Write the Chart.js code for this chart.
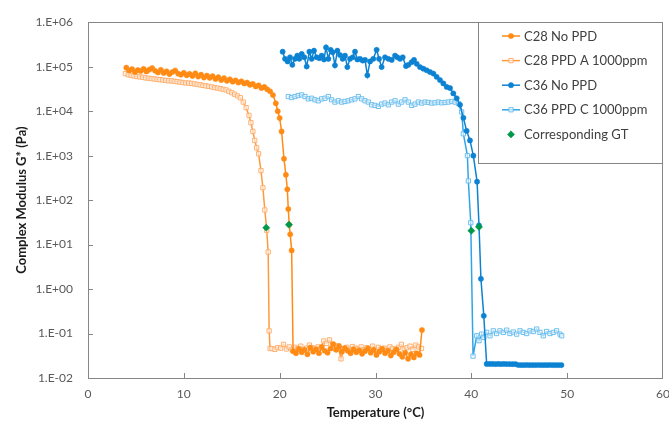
<!DOCTYPE html>
<html>
<head>
<meta charset="utf-8">
<script src="https://cdn.jsdelivr.net/npm/chart.js@4.4.1/dist/chart.umd.min.js"></script>
<style>
  html, body { margin: 0; padding: 0; background: #fff; overflow: hidden; }
</style>
</head>
<body>
<canvas id="chart" width="680" height="423"></canvas>
<script>
// series labels, in legend order
var seriesNames = ['C28 No PPD', 'C28 PPD A 1000ppm', 'C36 No PPD', 'C36 PPD C 1000ppm', 'Corresponding GT'];

// y axis: powers of ten and the way the sheet printed them
var yTickValues = [1e-2, 1e-1, 1e0, 1e1, 1e2, 1e3, 1e4, 1e5, 1e6];
var yTickLabels = ['1.E-02', '1.E-01', '1.E+00', '1.E+01', '1.E+02', '1.E+03', '1.E+04', '1.E+05', '1.E+06'];

// [temperature (°C), G* (Pa)]
var c28NoPPD = [
  [4.0,9.5e4],[4.3,8.2e4],[4.6,8.8e4],[4.9,7.6e4],[5.2,8.4e4],[5.5,8.0e4],[5.8,8.9e4],[6.1,7.8e4],
  [6.4,8.6e4],[6.7,9.3e4],[7.0,8.1e4],[7.3,7.4e4],[7.6,8.5e4],[7.9,7.2e4],[8.2,7.9e4],[8.5,6.8e4],
  [8.8,7.6e4],[9.1,8.2e4],[9.4,7.0e4],[9.7,6.6e4],[10.0,7.3e4],[10.3,6.4e4],[10.6,6.9e4],[10.9,6.2e4],
  [11.2,7.1e4],[11.5,6.0e4],[11.8,6.6e4],[12.1,5.7e4],[12.4,6.3e4],[12.7,5.6e4],[13.0,6.1e4],[13.3,5.3e4],
  [13.6,5.8e4],[13.9,5.0e4],[14.2,5.5e4],[14.5,4.8e4],[14.8,5.2e4],[15.1,4.6e4],[15.4,4.9e4],[15.7,4.4e4],
  [16.0,4.7e4],[16.3,4.2e4],[16.6,4.4e4],[16.9,3.9e4],[17.2,4.1e4],[17.5,3.6e4],[17.8,3.8e4],[18.1,3.3e4],
  [18.4,3.5e4],[18.7,3.1e4],[19.0,2.8e4],[19.3,2.3e4],[19.6,1.5e4],[19.8,1.0e4],[20.0,7.0e3],[20.2,3.5e3],
  [20.45,8.5e2],[20.65,3.7e2],[20.8,1.75e2],[20.9,63],[21.0,28],[21.1,17],[21.25,7.4],[21.4,0.040],
  [21.7,0.036],[22.0,0.045],[22.3,0.038],[22.6,0.043],[22.9,0.034],[23.2,0.048],[23.5,0.039],[23.8,0.044],
  [24.1,0.036],[24.4,0.050],[24.7,0.041],[25.0,0.037],[25.3,0.046],[25.6,0.058],[25.9,0.043],[26.2,0.052],
  [26.5,0.039],[26.8,0.047],[27.1,0.041],[27.4,0.036],[27.7,0.044],[28.0,0.038],[28.3,0.042],[28.6,0.035],
  [28.9,0.040],[29.2,0.046],[29.5,0.037],[29.8,0.043],[30.1,0.033],[30.4,0.039],[30.7,0.045],[31.0,0.036],
  [31.3,0.041],[31.6,0.032],[31.9,0.038],[32.2,0.044],[32.5,0.035],[32.8,0.030],[33.1,0.037],[33.4,0.027],
  [33.7,0.034],[34.0,0.029],[34.3,0.036],[34.6,0.033],[34.85,0.120]
];

var c28PPDA = [
  [3.9,7.0e4],[4.2,6.6e4],[4.5,6.4e4],[4.8,6.2e4],[5.1,6.0e4],[5.4,5.9e4],[5.7,5.8e4],[6.0,5.6e4],
  [6.3,5.5e4],[6.6,5.4e4],[6.9,5.3e4],[7.2,5.2e4],[7.5,5.1e4],[7.8,5.0e4],[8.1,4.9e4],[8.4,4.8e4],
  [8.7,4.8e4],[9.0,4.7e4],[9.3,4.6e4],[9.6,4.5e4],[9.9,4.4e4],[10.2,4.3e4],[10.5,4.3e4],[10.8,4.2e4],
  [11.1,4.1e4],[11.4,4.0e4],[11.7,3.9e4],[12.0,3.8e4],[12.3,3.7e4],[12.6,3.6e4],[12.9,3.5e4],[13.2,3.4e4],
  [13.5,3.3e4],[13.8,3.2e4],[14.1,3.1e4],[14.4,3.0e4],[14.7,2.8e4],[15.0,2.6e4],[15.3,2.4e4],[15.6,2.2e4],
  [15.9,2.0e4],[16.2,1.6e4],[16.5,1.2e4],[16.8,8.0e3],[17.0,5.5e3],[17.2,3.5e3],[17.4,2.2e3],[17.6,1.5e3],
  [17.8,1.1e3],[18.05,4.6e2],[18.25,1.9e2],[18.45,60],[18.65,21],[18.8,6.8],[18.9,0.115],[19.0,0.046],
  [19.2,0.046],[19.5,0.044],[19.8,0.048],[20.1,0.047],[20.4,0.057],[20.7,0.045],[21.0,0.050],[21.3,0.043],
  [21.6,0.049],[21.9,0.046],[22.2,0.052],[22.5,0.044],[22.8,0.047],[23.1,0.055],[23.4,0.048],[23.7,0.045],
  [24.0,0.050],[24.3,0.047],[24.6,0.068],[24.9,0.060],[25.2,0.072],[25.5,0.050],[25.8,0.045],[26.1,0.053],
  [26.4,0.027],[26.7,0.046],[27.0,0.049],[27.3,0.044],[27.6,0.051],[27.9,0.047],[28.2,0.045],[28.5,0.050],
  [28.8,0.043],[29.1,0.048],[29.4,0.046],[29.7,0.052],[30.0,0.044],[30.3,0.049],[30.6,0.045],[30.9,0.047],
  [31.2,0.042],[31.5,0.050],[31.8,0.046],[32.1,0.044],[32.4,0.049],[32.7,0.057],[33.0,0.045],[33.3,0.048],
  [33.6,0.052],[33.9,0.044],[34.2,0.055],[34.5,0.050],[34.8,0.046]
];

var c36NoPPD = [
  [20.31,2.17e5],[20.56,1.50e5],[20.83,1.31e5],[21.08,1.63e5],[21.32,1.10e5],[21.60,1.50e5],[21.84,1.77e5],
  [22.05,1.50e5],[22.30,1.93e5],[22.57,1.63e5],[22.82,1.01e5],[23.10,2.17e5],[23.34,1.50e5],[23.58,2.29e5],
  [23.86,1.63e5],[24.14,1.55e5],[24.38,1.77e5],[24.63,1.45e5],[24.84,2.71e5],[25.08,1.50e5],[25.32,2.40e5],
  [25.53,2.10e5],[25.77,1.07e5],[26.02,2.29e5],[26.30,1.83e5],[26.57,1.50e5],[26.82,1.77e5],[27.06,9.8e4],
  [27.34,1.50e5],[27.62,1.63e5],[27.86,2.17e5],[28.11,1.45e5],[28.38,1.50e5],[28.66,1.37e5],[28.91,1.42e5],
  [29.15,6.4e4],[29.43,1.31e5],[29.77,1.50e5],[30.12,2.40e5],[30.37,1.50e5],[30.64,9.8e4],[30.99,1.63e5],
  [31.34,1.50e5],[31.69,1.42e5],[32.04,1.77e5],[32.28,1.63e5],[32.56,1.50e5],[32.84,1.63e5],[33.18,1.03e5],
  [33.43,1.10e5],[33.77,1.26e5],[34.02,1.42e5],[34.30,1.16e5],[34.64,9.8e4],[34.99,9.0e4],[35.34,8.3e4],
  [35.69,7.6e4],[36.04,7.0e4],[36.38,5.9e4],[36.73,5.0e4],[37.08,4.2e4],[37.43,3.5e4],[37.78,3.3e4],
  [38.12,2.5e4],[38.47,1.95e4],[38.82,1.39e4],[39.17,7.1e3],[39.51,3.6e3],[39.86,2.2e3],[40.21,1.0e3],
  [40.6,2.6e2],[40.8,27],[41.0,1.7],[41.3,0.25],[41.6,0.0207],[41.9,0.0207],[42.2,0.0207],[42.5,0.0206],
  [42.8,0.0207],[43.1,0.0206],[43.4,0.0207],[43.7,0.0206],[44.0,0.0206],[44.3,0.0205],[44.6,0.0206],
  [44.9,0.0196],[45.2,0.0195],[45.5,0.0195],[45.8,0.0196],[46.1,0.0195],[46.4,0.0195],[46.7,0.0195],
  [47.0,0.0196],[47.3,0.0195],[47.6,0.0195],[47.9,0.0195],[48.2,0.0196],[48.5,0.0195],[48.8,0.0195],
  [49.1,0.0195],[49.4,0.0195]
];

var c36PPDC = [
  [20.90,2.13e4],[21.25,2.02e4],[21.60,2.13e4],[21.94,2.24e4],[22.29,2.32e4],[22.64,2.13e4],[22.99,1.89e4],
  [23.34,1.95e4],[23.68,1.80e4],[24.03,1.71e4],[24.38,1.89e4],[24.73,1.95e4],[25.08,2.13e4],[25.42,1.80e4],
  [25.77,1.60e4],[26.12,1.71e4],[26.47,1.60e4],[26.82,1.65e4],[27.16,1.71e4],[27.51,1.80e4],[27.86,1.89e4],
  [28.21,2.13e4],[28.56,1.89e4],[28.90,1.71e4],[29.25,1.60e4],[29.60,1.39e4],[29.95,1.35e4],[30.30,1.28e4],
  [30.64,1.44e4],[30.99,1.52e4],[31.34,1.39e4],[31.69,1.60e4],[32.04,1.71e4],[32.38,1.44e4],[32.73,1.60e4],
  [33.08,1.80e4],[33.43,1.60e4],[33.78,1.35e4],[34.12,1.44e4],[34.47,1.60e4],[34.82,1.52e4],[35.17,1.60e4],
  [35.52,1.57e4],[35.86,1.52e4],[36.21,1.54e4],[36.56,1.60e4],[36.91,1.54e4],[37.26,1.57e4],[37.60,1.60e4],
  [37.95,1.65e4],[38.30,1.60e4],[38.65,1.49e4],[38.99,9.6e3],[39.17,3.1e3],[39.59,1.0e3],[39.69,2.7e2],
  [39.94,31],[40.18,0.031],[40.56,0.089],[40.80,0.069],[41.08,0.097],[41.32,0.082],[41.60,0.106],
  [41.95,0.089],[42.29,0.115],[42.64,0.100],[42.99,0.115],[43.34,0.106],[43.69,0.119],[44.03,0.100],
  [44.38,0.108],[44.73,0.097],[45.08,0.115],[45.42,0.106],[45.77,0.100],[46.12,0.115],[46.47,0.111],
  [46.82,0.126],[47.16,0.106],[47.51,0.089],[47.86,0.111],[48.21,0.100],[48.55,0.106],[48.90,0.115],
  [49.25,0.097],[49.43,0.089]
];

var gtPoints = [[18.6,24],[20.97,28],[40.0,20.5],[40.8,25]];

function toXY(arr) {
  return arr.map(function (p) { return { x: p[0], y: p[1] }; });
}

var FONT = 'Lato, "Liberation Sans", sans-serif';

// frame round the plot plus inward tick marks
var framePlugin = {
  id: 'frame',
  beforeDatasetsDraw: function (chart) {
    var ctx = chart.ctx, a = chart.chartArea;
    var xs = chart.scales.x, ys = chart.scales.y;
    ctx.save();
    ctx.strokeStyle = '#868686';
    ctx.lineWidth = 1;
    ctx.strokeRect(Math.round(a.left) + 0.5, Math.round(a.top) + 0.5,
      Math.round(a.right - a.left) - 1, Math.round(a.bottom - a.top));
    ctx.beginPath();
    xs.ticks.forEach(function (t) {
      if (t.value <= xs.min || t.value >= xs.max) return;
      var px = Math.round(xs.getPixelForValue(t.value)) + 0.5;
      ctx.moveTo(px, a.bottom);
      ctx.lineTo(px, a.bottom - 5);
    });
    ys.ticks.forEach(function (t) {
      if (t.value <= ys.min || t.value >= ys.max) return;
      var py = Math.round(ys.getPixelForValue(t.value)) + 0.5;
      ctx.moveTo(a.left, py);
      ctx.lineTo(a.left + 5, py);
    });
    ctx.stroke();
    ctx.restore();
  }
};

// legend in a box in the top right corner of the plot
var legendPlugin = {
  id: 'boxLegend',
  afterDraw: function (chart) {
    var ctx = chart.ctx, a = chart.chartArea;
    var left = 478, top = Math.round(a.top) + 0.5, right = Math.round(a.right) - 0.5, bottom = 163.5;
    ctx.save();
    ctx.fillStyle = '#fff';
    ctx.fillRect(left, top, right - left, bottom - top);
    ctx.strokeStyle = '#868686';
    ctx.lineWidth = 1;
    ctx.strokeRect(left + 0.5, top, right - left - 0.5, bottom - top);
    ctx.font = '13px ' + FONT;
    ctx.textBaseline = 'middle';
    chart.data.datasets.forEach(function (ds, i) {
      var y = 36 + i * 24.6;
      if (ds.showLine) {
        ctx.strokeStyle = ds.borderColor;
        ctx.lineWidth = ds.borderWidth;
        ctx.beginPath();
        ctx.moveTo(502, y);
        ctx.lineTo(520, y);
        ctx.stroke();
      }
      ctx.fillStyle = ds.pointBackgroundColor;
      ctx.strokeStyle = ds.pointBorderColor;
      ctx.lineWidth = ds.pointBorderWidth;
      Chart.helpers.drawPoint(ctx, {
        pointStyle: ds.pointStyle, radius: ds.pointRadius,
        borderWidth: ds.pointBorderWidth, rotation: 0
      }, 511, y);
      ctx.fillStyle = '#404040';
      ctx.fillText(seriesNames[i], 524, y + 0.5);
    });
    ctx.restore();
  }
};

var chart = new Chart(document.getElementById('chart'), {
  type: 'scatter',
  data: {
    datasets: [
      {
        label: seriesNames[0], data: toXY(c28NoPPD), showLine: true, order: 1,
        borderColor: '#FF8A14', borderWidth: 1.5,
        pointStyle: 'circle', pointRadius: 2.6, pointBorderWidth: 0.5,
        pointBackgroundColor: '#FF8A14', pointBorderColor: '#FF8A14'
      },
      {
        label: seriesNames[1], data: toXY(c28PPDA), showLine: true, order: 2,
        borderColor: '#FF9A3C', borderWidth: 1.5,
        pointStyle: 'rect', pointRadius: 3, pointBorderWidth: 1,
        pointBackgroundColor: 'rgba(255,255,255,0.6)', pointBorderColor: '#FFB070'
      },
      {
        label: seriesNames[2], data: toXY(c36NoPPD), showLine: true, order: 1,
        borderColor: '#0C82D2', borderWidth: 1.5,
        pointStyle: 'circle', pointRadius: 2.6, pointBorderWidth: 0.5,
        pointBackgroundColor: '#0C82D2', pointBorderColor: '#0C82D2'
      },
      {
        label: seriesNames[3], data: toXY(c36PPDC), showLine: true, order: 2,
        borderColor: '#2FA4E7', borderWidth: 1.5,
        pointStyle: 'rect', pointRadius: 3, pointBorderWidth: 1,
        pointBackgroundColor: 'rgba(255,255,255,0.6)', pointBorderColor: '#6EBFEE'
      },
      {
        label: seriesNames[4], data: toXY(gtPoints), showLine: false, order: 0,
        borderColor: '#00994A', borderWidth: 0,
        pointStyle: 'rectRot', pointRadius: 3.6, pointBorderWidth: 0.5,
        pointBackgroundColor: '#00994A', pointBorderColor: '#00994A'
      }
    ]
  },
  options: {
    responsive: false,
    animation: false,
    devicePixelRatio: 1,
    // canvas is a bit wider than the window so the "60" label gets cut at the edge
    layout: { padding: { top: 16, right: 17, left: 0, bottom: 0 } },
    plugins: {
      legend: { display: false },
      tooltip: { enabled: false }
    },
    elements: { line: { tension: 0 } },
    scales: {
      x: {
        type: 'linear', min: 0, max: 60,
        grid: { display: false, drawTicks: false },
        border: { display: false },
        ticks: { stepSize: 10, padding: 9, color: '#595959', font: { family: FONT, size: 12 } },
        title: {
          display: true, text: 'Temperature (°C)', color: '#1a1a1a',
          font: { family: FONT, size: 13, weight: 'bold' }, padding: { top: 0, bottom: 2 }
        },
        afterFit: function (s) { s.height = 45; }
      },
      y: {
        type: 'logarithmic', min: 1e-2, max: 1e6,
        grid: { display: false, drawTicks: false },
        border: { display: false },
        afterBuildTicks: function (s) {
          s.ticks = yTickValues.map(function (v) { return { value: v }; });
        },
        ticks: {
          padding: 15, color: '#595959', font: { family: FONT, size: 12 },
          callback: function (v) {
            var i = yTickValues.findIndex(function (t) { return Math.abs(t - v) / t < 1e-6; });
            return i >= 0 ? yTickLabels[i] : '';
          }
        },
        title: {
          display: true, text: 'Complex Modulus G* (Pa)', color: '#1a1a1a',
          font: { family: FONT, size: 13, weight: 'bold' }, padding: { top: 14, bottom: 0 }
        },
        afterFit: function (s) { s.width = 88; }
      }
    }
  },
  plugins: [framePlugin, legendPlugin]
});
</script>
</body>
</html>
